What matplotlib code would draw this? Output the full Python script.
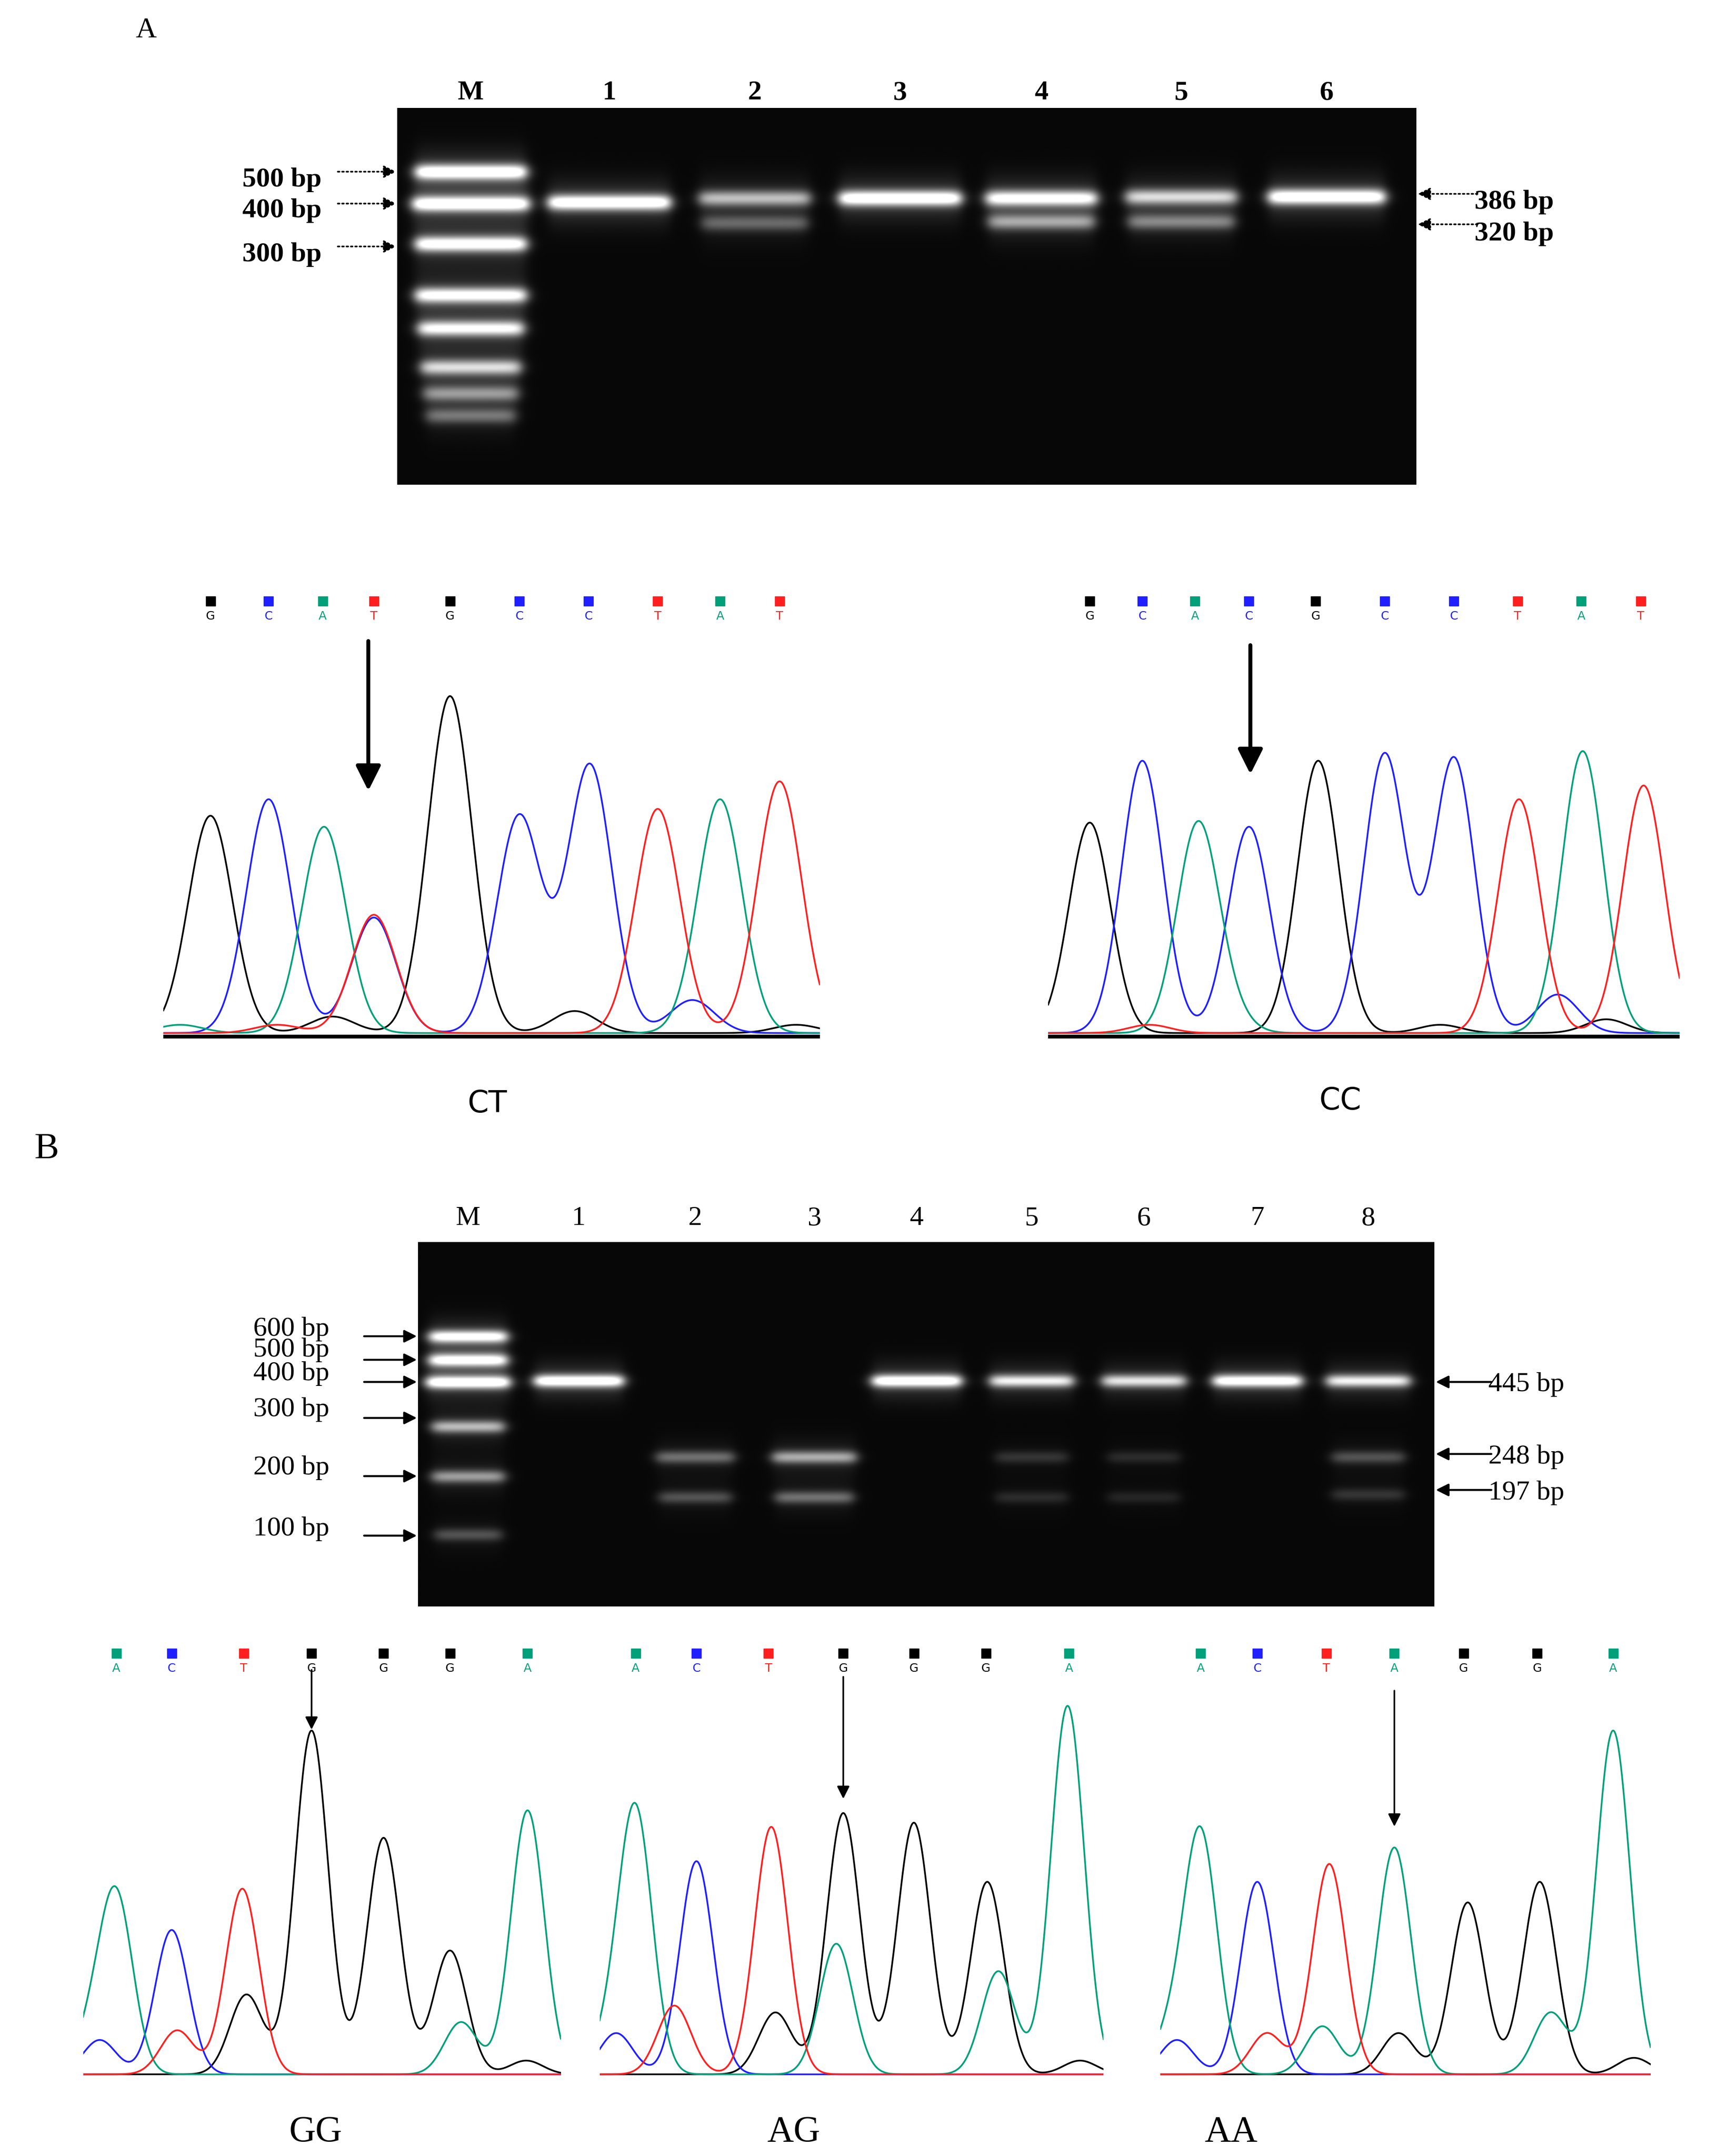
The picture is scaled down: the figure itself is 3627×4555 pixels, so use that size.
import numpy as np
import matplotlib.pyplot as plt

W, H = 1240, 1557          # layout grid (reference pixel units / 2.925)
fig = plt.figure(figsize=(36.27, 45.55), dpi=100)

def place(x0, y0, x1, y1, z=1):
    return fig.add_axes([x0 / W, 1 - y1 / H, (x1 - x0) / W, (y1 - y0) / H], zorder=z)

COL = {'G': 'black', 'C': '#1f1fff', 'A': '#00a07a', 'T': '#ff1f1f'}

# ---------- gel A data ----------
gelA_box = (287, 78, 1023, 350)
gelA_lanes = ['M', '1', '2', '3', '4', '5', '6']
gelA_lane_x = [340, 440, 545, 650, 752, 853, 958]
# (lane index, band y, intensity, half width)
gelA_bands = [(0, 124, 1.0, 40), (0, 147, 1.0, 42), (0, 176, 0.95, 40), (0, 213, 0.9, 40),
              (0, 237, 0.85, 38), (0, 265, 0.7, 36), (0, 284, 0.45, 34), (0, 300, 0.35, 32),
              (1, 146, 1.0, 44), (2, 143, 0.6, 40), (2, 161, 0.3, 38),
              (3, 143, 1.0, 44), (4, 143, 0.9, 40), (4, 160, 0.5, 38),
              (5, 142, 0.7, 40), (5, 160, 0.4, 38), (6, 142, 1.0, 42)]
gelA_left = [('500 bp', 130, 124), ('400 bp', 152, 147), ('300 bp', 184, 178)]
gelA_right = [('386 bp', 146, 140), ('320 bp', 169, 162)]

# ---------- gel B data ----------
gelB_box = (302, 897, 1036, 1160)
gelB_lanes = ['M', '1', '2', '3', '4', '5', '6', '7', '8']
gelB_lane_x = [338, 418, 502, 588, 662, 745, 826, 908, 988]
gelB_bands = [(0, 965, 0.9, 28), (0, 982, 0.9, 28), (0, 998, 1.0, 30), (0, 1030, 0.6, 26),
              (0, 1066, 0.5, 26), (0, 1108, 0.25, 24),
              (1, 997, 1.0, 32), (2, 1052, 0.35, 28), (2, 1081, 0.25, 26),
              (3, 1052, 0.55, 30), (3, 1081, 0.35, 28),
              (4, 997, 1.0, 32), (5, 997, 0.8, 30), (5, 1052, 0.15, 26), (5, 1081, 0.12, 26),
              (6, 997, 0.75, 30), (6, 1052, 0.12, 26), (6, 1081, 0.1, 26),
              (7, 997, 0.95, 32), (8, 997, 0.8, 30), (8, 1052, 0.25, 26), (8, 1079, 0.15, 26)]
gelB_left = [('600 bp', 960, 965), ('500 bp', 975, 982), ('400 bp', 992, 998),
             ('300 bp', 1018, 1024), ('200 bp', 1060, 1066), ('100 bp', 1104, 1109)]
gelB_right = [('445 bp', 1000, 998), ('248 bp', 1052, 1050), ('197 bp', 1078, 1076)]

# ---------- chromatogram data: (letter, x, height) per peak ----------
CT_box = (118, 420, 592, 750)
CT_bases = ['G', 'C', 'A', 'T', 'G', 'C', 'C', 'T', 'A', 'T']
CT_base_x = [152, 194, 233, 270, 325, 375, 425, 475, 520, 563]
CT_peaks = [('G', 152, 158), ('C', 194, 170), ('A', 234, 150), ('T', 270, 86), ('C', 270, 84),
            ('G', 325, 245), ('C', 375, 158), ('C', 426, 195), ('T', 475, 163), ('A', 520, 170),
            ('T', 563, 183), ('G', 240, 12), ('G', 415, 16), ('C', 500, 24), ('A', 130, 6),
            ('T', 200, 6), ('G', 575, 6)]
CT_arrow = (266, 462, 572)

CC_box = (757, 420, 1213, 750)
CC_bases = ['G', 'C', 'A', 'C', 'G', 'C', 'C', 'T', 'A', 'T']
CC_base_x = [787, 825, 863, 902, 950, 1000, 1050, 1096, 1142, 1185]
CC_peaks = [('G', 787, 153), ('C', 825, 198), ('A', 865, 150), ('C', 902, 150), ('G', 952, 198),
            ('C', 1000, 203), ('C', 1050, 200), ('T', 1097, 170), ('A', 1143, 205), ('T', 1187, 180),
            ('A', 887, 12), ('C', 1125, 28), ('G', 1160, 10), ('T', 830, 6), ('G', 1040, 6)]
CC_arrow = (903, 465, 560)

GG_box = (60, 1180, 405, 1502)
GG_bases = ['A', 'C', 'T', 'G', 'G', 'G', 'A']
GG_base_x = [84, 124, 176, 225, 277, 325, 381]
GG_peaks = [('A', 84, 127), ('C', 124, 105), ('T', 175, 135), ('G', 225, 250), ('G', 277, 172),
            ('G', 325, 90), ('A', 381, 192), ('G', 178, 58), ('T', 128, 32), ('A', 333, 38),
            ('C', 72, 25), ('A', 66, 28), ('G', 380, 10)]
GG_arrow = (225, 1205, 1250)

AG_box = (433, 1180, 797, 1502)
AG_bases = ['A', 'C', 'T', 'G', 'G', 'G', 'A']
AG_base_x = [459, 503, 555, 609, 660, 712, 772]
AG_peaks = [('A', 459, 190), ('C', 503, 155), ('T', 557, 180), ('G', 609, 190), ('A', 604, 95),
            ('G', 660, 183), ('G', 713, 140), ('A', 771, 268), ('T', 487, 50), ('G', 560, 45),
            ('A', 721, 75), ('C', 445, 30), ('A', 440, 25), ('G', 780, 10)]
AG_arrow = (609, 1210, 1300)

AA_box = (838, 1180, 1192, 1502)
AA_bases = ['A', 'C', 'T', 'A', 'G', 'G', 'A']
AA_base_x = [867, 908, 958, 1007, 1057, 1110, 1165]
AA_peaks = [('A', 867, 175), ('C', 908, 140), ('T', 960, 153), ('A', 1007, 165), ('G', 1060, 125),
            ('G', 1112, 140), ('A', 1165, 250), ('T', 915, 30), ('A', 955, 35), ('G', 1010, 30),
            ('A', 1120, 45), ('C', 850, 25), ('A', 845, 28), ('G', 1180, 12)]
AA_arrow = (1007, 1220, 1320)


def draw_gel(box, lane_x, bands, thick):
    x0, y0, x1, y1 = box
    ax = place(x0, y0, x1, y1)
    xs = np.arange(x0, x1, 0.5)
    ys = np.arange(y0, y1, 0.5)
    X, Y = np.meshgrid(xs, ys)
    img = np.full(X.shape, 0.03)
    for lane, yc, inten, hw in bands:
        xc = lane_x[lane]
        px = 0.5 * (np.tanh((X - (xc - hw)) / 5) - np.tanh((X - (xc + hw)) / 5))
        py = np.exp(-((Y - yc) / thick) ** 2)
        glow = np.exp(-((Y - yc) / (thick * 3)) ** 2) * 0.18
        img += inten * px * (py + glow)
    ax.imshow(np.clip(img, 0, 1), cmap='gray', vmin=0, vmax=1, aspect='auto',
              extent=(x0, x1, y1, y0), interpolation='bilinear')
    ax.set_axis_off()


def draw_chrom(box, bases, base_x, peaks, sigma, baseline_bar):
    x0, top, x1, base = box
    ax = place(x0, top + 40, x1, base)
    xs = np.linspace(x0, x1, 1500)
    for letter in ['G', 'C', 'A', 'T']:
        y = np.full_like(xs, 2.0)
        for l, xp, h in peaks:
            if l == letter:
                y += h * np.exp(-0.5 * ((xs - xp) / sigma) ** 2)
        ax.plot(xs, y, color=COL[letter], lw=2.6)
    ax.set_xlim(x0, x1)
    ax.set_ylim(-2, base - top - 40)
    ax.set_axis_off()
    if baseline_bar:
        ax.axhline(-1, color='black', lw=8)
    return ax


draw_gel(gelA_box, gelA_lane_x, gelA_bands, 5.5)
draw_gel(gelB_box, gelB_lane_x, gelB_bands, 4.5)

chroms = [(CT_box, CT_bases, CT_base_x, CT_peaks, 16, True),
          (CC_box, CC_bases, CC_base_x, CC_peaks, 15, True),
          (GG_box, GG_bases, GG_base_x, GG_peaks, 12, False),
          (AG_box, AG_bases, AG_base_x, AG_peaks, 12, False),
          (AA_box, AA_bases, AA_base_x, AA_peaks, 12, False)]
for c in chroms:
    draw_chrom(*c)

# ---------- overlay for text and arrows ----------
ov = place(0, 0, W, H, z=10)
ov.set_xlim(0, W)
ov.set_ylim(H, 0)
ov.patch.set_alpha(0)
ov.set_axis_off()

serif = 'Liberation Serif'
ov.text(98, 22, 'A', fontsize=44, family=serif, va='center')
ov.text(25, 830, 'B', fontsize=56, family=serif, va='center')

for lab, x in zip(gelA_lanes, gelA_lane_x):
    ov.text(x, 67, lab, fontsize=42, family=serif, weight='bold', ha='center', va='center')
for lab, x in zip(gelB_lanes, gelB_lane_x):
    ov.text(x, 880, lab, fontsize=42, family=serif, ha='center', va='center')

for lab, ty, ay in gelA_left:
    ov.text(175, ty, lab, fontsize=42, family=serif, weight='bold', va='center')
    ov.annotate('', xy=(287, ay), xytext=(243, ay),
                arrowprops=dict(arrowstyle='-|>', lw=2.5, ls=':', color='black', mutation_scale=40))
for lab, ty, ay in gelA_right:
    ov.text(1065, ty, lab, fontsize=42, family=serif, weight='bold', va='center')
    ov.annotate('', xy=(1023, ay), xytext=(1068, ay),
                arrowprops=dict(arrowstyle='-|>', lw=2.5, ls=':', color='black', mutation_scale=40))

for lab, ty, ay in gelB_left:
    ov.text(183, ty, lab, fontsize=42, family=serif, va='center')
    ov.annotate('', xy=(302, ay), xytext=(262, ay),
                arrowprops=dict(arrowstyle='-|>', lw=3, color='black', mutation_scale=40))
for lab, ty, ay in gelB_right:
    ov.text(1075, ty, lab, fontsize=42, family=serif, va='center')
    ov.annotate('', xy=(1036, ay), xytext=(1078, ay),
                arrowprops=dict(arrowstyle='-|>', lw=3, color='black', mutation_scale=40))

# base calls above chromatograms
for box, bases, base_x, *_ in chroms:
    sq_y = box[1] + 14
    for b, x in zip(bases, base_x):
        ov.plot(x, sq_y, marker='s', ms=14, color=COL[b], mec=COL[b])
        ov.text(x, sq_y + 11, b, fontsize=18, color=COL[b], ha='center', va='center')

for ax_x, a0, a1 in [CT_arrow, CC_arrow]:
    ov.annotate('', xy=(ax_x, a1), xytext=(ax_x, a0),
                arrowprops=dict(arrowstyle='-|>', lw=6, color='black', mutation_scale=80))
for ax_x, a0, a1 in [GG_arrow, AG_arrow, AA_arrow]:
    ov.annotate('', xy=(ax_x, a1), xytext=(ax_x, a0),
                arrowprops=dict(arrowstyle='-|>', lw=2.5, color='black', mutation_scale=40))

ov.text(352, 797, 'CT', fontsize=46, family='DejaVu Sans', ha='center', va='center')
ov.text(968, 795, 'CC', fontsize=46, family='DejaVu Sans', ha='center', va='center')
for lab, x in [('GG', 228), ('AG', 573), ('AA', 889)]:
    ov.text(x, 1540, lab, fontsize=56, family=serif, ha='center', va='center')

fig.savefig('out.png', dpi=100, facecolor='white')
